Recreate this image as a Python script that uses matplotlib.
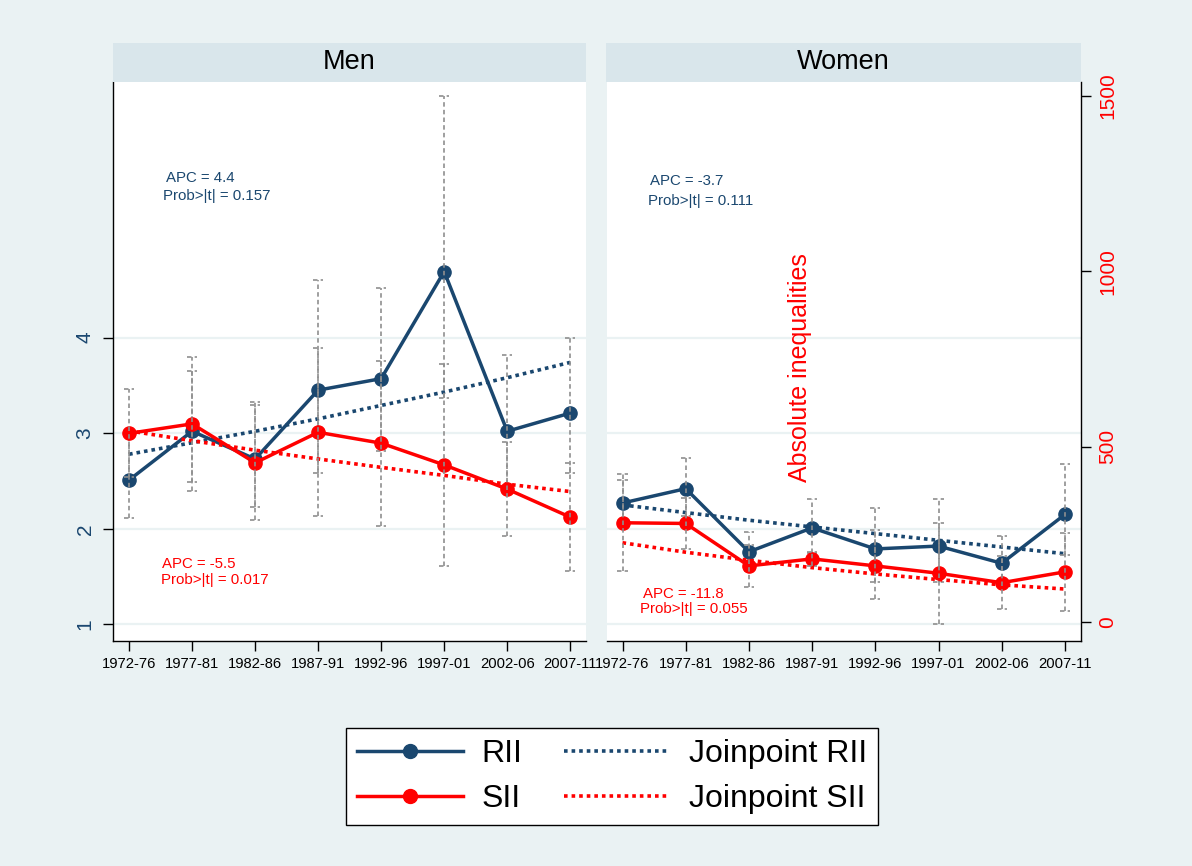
import matplotlib
import matplotlib.pyplot as plt
from matplotlib.lines import Line2D
from matplotlib.patches import Rectangle

matplotlib.use("Agg")
plt.rcParams["font.family"] = ["Liberation Sans", "DejaVu Sans"]

# Five-year periods on the x axis
periods = ["1972-76", "1977-81", "1982-86", "1987-91",
           "1992-96", "1997-01", "2002-06", "2007-11"]

# Men: relative index of inequality (left axis) with 95% CI
men_rii = [2.51, 3.02, 2.73, 3.45, 3.57, 4.69, 3.02, 3.21]
men_rii_lo = [2.11, 2.49, 2.23, 2.58, 2.81, 3.37, 2.39, 2.58]
men_rii_hi = [2.98, 3.65, 3.33, 4.60, 4.52, 6.52, 3.82, 3.99]
# Men: slope index of inequality (right axis) with 95% CI
men_sii = [538, 565, 454, 541, 510, 448, 379, 299]
men_sii_lo = [413, 374, 291, 302, 275, 161, 244, 145]
men_sii_hi = [664, 757, 618, 781, 744, 735, 514, 453]
# Men: joinpoint fitted trends
men_jp_rii = [2.78, 2.90, 3.02, 3.15, 3.29, 3.43, 3.58, 3.74]
men_jp_sii = [545, 517, 490, 465, 441, 418, 393, 372]

# Women
women_rii = [2.27, 2.42, 1.76, 2.01, 1.79, 1.82, 1.64, 2.15]
women_rii_lo = [2.06, 2.13, 1.56, 1.75, 1.44, 1.44, 1.40, 1.73]
women_rii_hi = [2.51, 2.74, 1.97, 2.31, 2.22, 2.31, 1.92, 2.68]
women_sii = [283, 281, 160, 180, 160, 139, 112, 143]
women_sii_lo = [145, 208, 101, 160, 66, -5, 36, 31]
women_sii_hi = [421, 354, 220, 200, 262, 283, 188, 255]
women_jp_rii = [2.25, 2.17, 2.09, 2.02, 1.95, 1.88, 1.81, 1.74]
women_jp_sii = [226, 199, 176, 155, 137, 121, 106, 94]

# Annual percent change annotations: (text, x, y) in data units
men_apc_rii = [("APC = 4.4", 0.58, 5.63), ("Prob>|t| = 0.157", 0.54, 5.44)]
men_apc_sii = [("APC = -5.5", 0.53, 1.59), ("Prob>|t| = 0.017", 0.51, 1.42)]
women_apc_rii = [("APC = -3.7", 0.44, 5.59), ("Prob>|t| = 0.111", 0.41, 5.39)]
women_apc_sii = [("APC = -11.8", 0.32, 1.28), ("Prob>|t| = 0.055", 0.28, 1.12)]

NAVY = "#1a476f"
RED = "#ff0000"
GREY = "#8f8f8f"
BG = "#eaf2f3"
STRIP = "#d9e6eb"
DOTS = (0, (1, 1.1))

W, H = 1192, 866
fig = plt.figure(figsize=(W / 100, H / 100), dpi=100, facecolor=BG)


def box(x0, y0, x1, y1):
    """Figure-fraction rectangle from pixel corners (origin top left)."""
    return [x0 / W, 1 - y1 / H, (x1 - x0) / W, (y1 - y0) / H]


def ci_bars(ax, lo, hi):
    """Dashed grey range bars with small caps."""
    x = range(len(lo))
    style = dict(colors=GREY, linewidth=1.2, linestyles=(0, (2.7, 1.9)),
                 zorder=4)
    ax.vlines(x, lo, hi, **style)
    ax.hlines(lo, [i - 0.08 for i in x], [i + 0.08 for i in x], **style)
    ax.hlines(hi, [i - 0.08 for i in x], [i + 0.08 for i in x], **style)


def draw_panel(rect, strip, title, rii, rii_lo, rii_hi, sii, sii_lo, sii_hi,
               jp_rii, jp_sii, apc_rii, apc_sii, left_axis):
    ax = fig.add_axes(box(*rect))
    ax2 = ax.twinx()
    x = range(len(periods))

    # Header strip with the panel title
    fig.patches.append(Rectangle(box(*strip)[:2], *box(*strip)[2:],
                                 transform=fig.transFigure,
                                 facecolor=STRIP, edgecolor="none"))
    fig.text((strip[0] + strip[2]) / 2 / W, 1 - (strip[1] + strip[3]) / 2 / H,
             title, ha="center", va="center", fontsize=19.5)

    # RII on the left scale
    ax.plot(x, jp_rii, color=NAVY, lw=2.6, linestyle=DOTS, zorder=2)
    ax.plot(x, rii, color=NAVY, lw=2.5, marker="o", markersize=9.5, zorder=3)
    ci_bars(ax, rii_lo, rii_hi)

    # SII on the right scale
    ax2.plot(x, jp_sii, color=RED, lw=2.6, linestyle=DOTS, zorder=2)
    ax2.plot(x, sii, color=RED, lw=2.5, marker="o", markersize=9.5, zorder=3)
    ci_bars(ax2, sii_lo, sii_hi)

    for text, tx, ty in apc_rii:
        ax.text(tx, ty, text, color=NAVY, fontsize=10.8, va="baseline")
    for text, tx, ty in apc_sii:
        ax.text(tx, ty, text, color=RED, fontsize=10.8, va="baseline")

    ax.set_xlim(-0.25, 7.25)
    ax.set_ylim(0.8275, 6.671)
    ax2.set_ylim(-54.2, 1540)

    ax.set_xticks(list(x))
    ax.set_xticklabels(periods)
    ax.tick_params(axis="x", length=7.5, width=1, pad=4, labelsize=10.6)

    ax.set_yticks([1, 2, 3, 4])
    ax.grid(axis="y", color=BG, lw=1.6)
    ax.set_axisbelow(True)
    for side in ["top", "right"]:
        ax.spines[side].set_visible(False)
    for side in ax2.spines:
        ax2.spines[side].set_visible(False)

    if left_axis:
        ax.set_yticklabels(["1", "2", "3", "4"], rotation=90, va="center")
        ax.tick_params(axis="y", length=7.5, width=1, pad=6, labelsize=15,
                       labelcolor=NAVY)
        ax2.set_yticks([])
    else:
        ax.spines["left"].set_visible(False)
        ax.tick_params(axis="y", left=False, labelleft=False)
        ax2.spines["right"].set_visible(True)
        ax2.set_yticks([0, 500, 1000, 1500])
        ax2.set_yticklabels(["0", "500", "1000", "1500"], rotation=90,
                            va="center")
        ax2.tick_params(axis="y", length=7.5, width=1, pad=5, labelsize=15,
                        labelcolor=RED)
    for spine in list(ax.spines.values()) + list(ax2.spines.values()):
        spine.set_linewidth(1)
    return ax


draw_panel((113.3, 82, 586, 641), (112.7, 42.7, 586, 81.7), "Men",
           men_rii, men_rii_lo, men_rii_hi, men_sii, men_sii_lo, men_sii_hi,
           men_jp_rii, men_jp_sii, men_apc_rii, men_apc_sii, True)
draw_panel((606.7, 82, 1080.7, 641), (606.4, 42.7, 1081, 81.7), "Women",
           women_rii, women_rii_lo, women_rii_hi, women_sii, women_sii_lo,
           women_sii_hi, women_jp_rii, women_jp_sii, women_apc_rii,
           women_apc_sii, False)

# Title of the right-hand (SII) axis
fig.text(800 / W, 1 - 368 / H, "Absolute inequalities", rotation=90,
         color=RED, fontsize=18, ha="center", va="center")

handles = [
    Line2D([], [], color=NAVY, lw=2.5, marker="o", markersize=10),
    Line2D([], [], color=RED, lw=2.5, marker="o", markersize=10),
    Line2D([], [], color=NAVY, lw=2.6, linestyle=DOTS),
    Line2D([], [], color=RED, lw=2.6, linestyle=DOTS),
]
labels = ["RII", "SII", "Joinpoint RII", "Joinpoint SII"]
leg = fig.legend(handles, labels, ncol=2, loc="center",
                 bbox_to_anchor=(612 / W, 1 - 776.5 / H), fontsize=23,
                 handlelength=3.3, handletextpad=0.6, columnspacing=1.3,
                 labelspacing=0.45, borderpad=0.35, fancybox=False,
                 framealpha=1, edgecolor="black")
leg.get_frame().set_linewidth(1)

fig.savefig("out.png", dpi=100, facecolor=BG)
